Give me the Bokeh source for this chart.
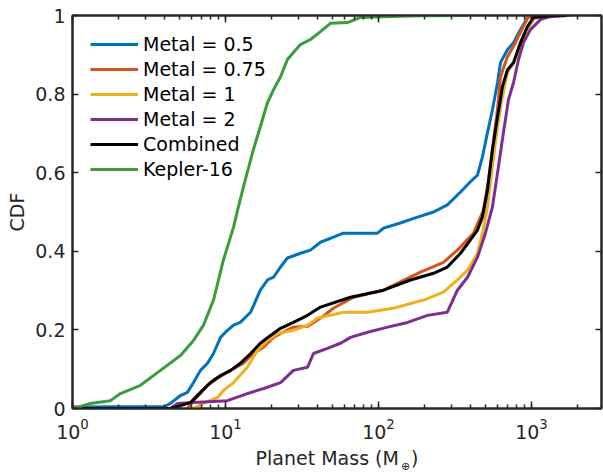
from bokeh.plotting import figure
from bokeh.models import (Range1d, LogAxis, LinearAxis, LogTicker, FixedTicker, LogScale,
                          Legend, LegendItem, Label, ColumnDataSource)
from bokeh.embed import file_html
from bokeh.resources import INLINE

# ---------------- data ----------------
kepler_mass = [1.0, 1.08, 1.31, 1.77, 2.06, 2.78, 3.76, 5.08, 6.18, 7.18, 8.35, 9.70, 11.3,
               12.0, 13.1, 15.2, 16.9, 18.8, 20.6, 22.9, 25.4, 27.8, 30.9, 35.9, 41.8, 48.5,
               62.7, 76.3, 103, 188, 382]
kepler_cdf = [0.0, 0.003, 0.013, 0.020, 0.038, 0.059, 0.097, 0.135, 0.173, 0.212, 0.276, 0.378,
              0.462, 0.505, 0.564, 0.658, 0.717, 0.778, 0.811, 0.844, 0.888, 0.906, 0.926, 0.939,
              0.959, 0.980, 0.982, 0.995, 0.997, 0.9995, 1.0]

m05_mass = [1.0, 4.0, 4.37, 5.08, 5.64, 6.18, 6.86, 7.63, 8.35, 9.28, 10.3, 11.3, 12.5, 14.6,
            16.9, 18.8, 20.6, 22.9, 25.4, 30.9, 35.9, 41.8, 50.8, 59.0, 98.5, 108, 139, 180,
            229, 282, 344, 399, 444, 478, 516, 556, 600, 627, 697, 763, 847, 942, 1030, 1800]
m05_cdf = [0.004, 0.005, 0.013, 0.033, 0.041, 0.066, 0.097, 0.115, 0.140, 0.181, 0.199, 0.212,
           0.219, 0.245, 0.301, 0.327, 0.334, 0.360, 0.383, 0.395, 0.403, 0.423, 0.436, 0.446,
           0.446, 0.459, 0.472, 0.487, 0.500, 0.518, 0.551, 0.577, 0.594, 0.640, 0.702, 0.760,
           0.829, 0.880, 0.913, 0.931, 0.964, 0.995, 1.0, 1.0]

m075_mass = [5.64, 6.18, 6.86, 7.63, 8.87, 10.8, 13.1, 15.2, 17.7, 20.6, 22.9, 27.8, 34.4,
             41.8, 50.8, 68.7, 108, 188, 266, 328, 418, 486, 524, 565, 600, 627, 697, 763,
             847, 956, 1330]
m075_cdf = [0.0, 0.020, 0.038, 0.059, 0.077, 0.097, 0.115, 0.140, 0.156, 0.181, 0.191, 0.207,
            0.209, 0.230, 0.255, 0.283, 0.301, 0.347, 0.372, 0.403, 0.446, 0.505, 0.582, 0.684,
            0.760, 0.844, 0.895, 0.921, 0.957, 0.997, 1.0]

m1_mass = [6.18, 7.18, 8.87, 9.70, 11.3, 13.9, 16.2, 18.8, 21.9, 27.8, 34.4, 39.9, 59.0, 84.8,
           125, 197, 266, 328, 382, 444, 478, 516, 565, 600, 646, 697, 763, 847, 942, 1030,
           1150, 1390]
m1_cdf = [0.0, 0.013, 0.028, 0.046, 0.066, 0.105, 0.148, 0.173, 0.191, 0.199, 0.212, 0.230,
          0.245, 0.245, 0.255, 0.276, 0.296, 0.327, 0.352, 0.395, 0.446, 0.513, 0.640, 0.717,
          0.793, 0.855, 0.880, 0.921, 0.964, 0.990, 0.997, 1.0]

m2_mass = [4.37, 4.86, 6.18, 10.3, 13.9, 18.8, 22.9, 27.8, 34.4, 37.6, 46.4, 56.5, 65.6, 84.8,
           115, 155, 209, 282, 328, 382, 444, 500, 556, 600, 656, 708, 763, 823, 887, 985,
           1150, 1330, 1720]
m2_cdf = [0.0, 0.013, 0.015, 0.020, 0.038, 0.054, 0.066, 0.097, 0.105, 0.140, 0.153, 0.166,
          0.181, 0.194, 0.207, 0.219, 0.237, 0.245, 0.301, 0.334, 0.385, 0.446, 0.513, 0.599,
          0.702, 0.786, 0.829, 0.888, 0.931, 0.964, 0.990, 0.997, 1.0]

comb_mass = [1.0, 4.37, 5.90, 6.86, 7.98, 9.28, 10.8, 12.5, 14.6, 16.9, 19.7, 22.9, 27.8, 34.4,
             41.8, 65.6, 108, 162, 229, 282, 344, 399, 444, 478, 516, 556, 600, 646, 697, 763,
             847, 942, 1030, 1390, 1670]
comb_cdf = [0.0, 0.0, 0.015, 0.041, 0.066, 0.084, 0.097, 0.115, 0.140, 0.166, 0.186, 0.204,
            0.219, 0.237, 0.258, 0.283, 0.301, 0.327, 0.344, 0.360, 0.395, 0.429, 0.454, 0.487,
            0.556, 0.658, 0.742, 0.819, 0.862, 0.880, 0.931, 0.972, 0.995, 1.0, 1.0]

series_names = ["Metal = 0.5", "Metal = 0.75", "Metal = 1", "Metal = 2", "Combined", "Kepler-16"]
series_x = [m05_mass, m075_mass, m1_mass, m2_mass, comb_mass, kepler_mass]
series_y = [m05_cdf, m075_cdf, m1_cdf, m2_cdf, comb_cdf, kepler_cdf]
colors = ["#0072BD", "#D95319", "#EDB120", "#7E2F8E", "#000000", "#3A9D3A"]

y_ticks = [0, 0.2, 0.4, 0.6, 0.8, 1]
y_tick_labels = {0: "0", 0.2: "0.2", 0.4: "0.4", 0.6: "0.6", 0.8: "0.8", 1: "1"}

# ---------------- figure ----------------
FONT = "DejaVu Sans"
AX = "#262626"
FS = "19px"

p = figure(width=603, height=474, x_axis_type=None, y_axis_type=None,
           x_range=Range1d(1, 2870), y_range=Range1d(0, 1),
           output_backend="svg", toolbar_location=None,
           min_border_left=72, min_border_right=2, min_border_top=15, min_border_bottom=66)
p.x_scale = LogScale()
p.grid.visible = False
p.outline_line_color = AX
p.outline_line_width = 2
p.background_fill_color = "white"
p.border_fill_color = "white"

def style_axis(ax, labels=True):
    ax.axis_line_color = AX
    ax.axis_line_width = 2
    ax.major_tick_line_color = AX
    ax.minor_tick_line_color = AX
    ax.major_tick_line_width = 1.5
    ax.minor_tick_line_width = 1.5
    ax.major_tick_in = 7
    ax.major_tick_out = 0
    ax.minor_tick_in = 4
    ax.minor_tick_out = 0
    ax.major_label_text_font = FONT
    ax.major_label_text_font_size = FS
    ax.major_label_text_color = AX
    ax.axis_label_text_font = FONT
    ax.axis_label_text_font_size = FS
    ax.axis_label_text_font_style = "normal"
    ax.axis_label_text_color = AX
    if not labels:
        ax.major_label_text_alpha = 0
        ax.major_label_text_font_size = "0px"
        ax.major_label_standoff = 0

# bottom / top log axes
xb = LogAxis(ticker=LogTicker(num_minor_ticks=10))
style_axis(xb)
xb.major_label_standoff = 9
xb.axis_label = "Planet Mass (M\u00a0\u00a0)"
xb.axis_label_standoff = 5
p.add_layout(xb, "below")
xt = LogAxis(ticker=LogTicker(num_minor_ticks=10))
style_axis(xt, labels=False)
p.add_layout(xt, "above")

# left / right linear axes
yl = LinearAxis(ticker=FixedTicker(ticks=y_ticks, minor_ticks=[]))
style_axis(yl)
yl.major_tick_in = 6
yl.major_label_overrides = y_tick_labels
yl.major_label_standoff = 7
yl.axis_label = "CDF"
yl.axis_label_standoff = 4
p.add_layout(yl, "left")
yr = LinearAxis(ticker=FixedTicker(ticks=y_ticks, minor_ticks=[]))
style_axis(yr, labels=False)
yr.major_tick_in = 6
p.add_layout(yr, "right")

renderers = []
for name, xs, ys, c in zip(series_names, series_x, series_y, colors):
    src = ColumnDataSource(dict(x=xs, y=ys))
    r = p.line("x", "y", source=src, line_color=c, line_width=3)
    renderers.append((name, r))

legend = Legend(items=[LegendItem(label=n, renderers=[r]) for n, r in renderers],
                location="top_left", label_text_font=FONT, label_text_font_size=FS,
                label_text_color="#000000", glyph_width=48, glyph_height=20,
                label_height=20, spacing=3, padding=8, margin=10, label_standoff=5,
                border_line_alpha=0, background_fill_alpha=0)
p.add_layout(legend, "center")

# subscript earth symbol of the x axis label (placed from the top side panel, not clipped)
p.add_layout(Label(x=333, y=-451, x_units="screen", y_units="screen", text="⊕",
                   text_font=FONT, text_font_size="11px", text_color=AX,
                   text_align="center", text_baseline="middle"), "above")

open("out.html", "w").write(file_html(p, INLINE))
